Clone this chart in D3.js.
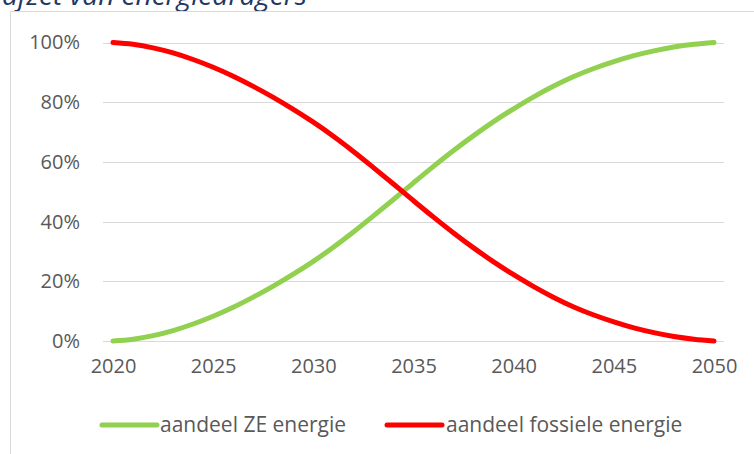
<!DOCTYPE html>
<html><head><meta charset="utf-8">
<script src="https://cdn.jsdelivr.net/npm/d3@7"></script>
<style>body{margin:0;background:#fff}svg{display:block}</style>
</head><body>
<svg id="c" width="754" height="454"></svg>
<script>
const years = d3.range(2020, 2051);
const tickYears = [2020, 2025, 2030, 2035, 2040, 2045, 2050];
const yTicks = [0, 20, 40, 60, 80, 100];
const zeShare = [0, 0.6, 1.8, 3.5, 5.7, 8.3, 11.3, 14.7, 18.4, 22.4, 26.7, 31.4, 36.5, 41.9, 47.4, 53.0, 58.5, 63.8, 68.8, 73.5, 77.8, 81.8, 85.4, 88.6, 91.3, 93.6, 95.6, 97.2, 98.5, 99.4, 100];
const fossilShare = [100, 99.4, 98.2, 96.5, 94.3, 91.7, 88.7, 85.3, 81.6, 77.6, 73.3, 68.6, 63.5, 58.1, 52.6, 47.0, 41.5, 36.2, 31.2, 26.5, 22.2, 18.2, 14.6, 11.4, 8.7, 6.4, 4.4, 2.8, 1.5, 0.6, 0];
const seriesNames = ["aandeel ZE energie", "aandeel fossiele energie"];
const title = "afzet van energiedragers";

const svg = d3.select("#c");
const font = "'Open Sans', sans-serif";
const grey = "#595959";

// title (cut off at top, as in the reference)
svg.append("text").attr("x", 2).attr("y", 5)
  .attr("font-family", font).attr("font-style", "italic").attr("font-size", 28)
  .attr("fill", "#1f3864").text(title);

// frame
svg.append("rect").attr("x", 10.5).attr("y", 11.5).attr("width", 800).attr("height", 500)
  .attr("fill", "none").attr("stroke", "#d9d9d9").attr("stroke-width", 1);

const x = d3.scalePoint().domain(years).range([113, 714]);
const y = d3.scaleLinear().domain([0, 100]).range([341, 42.5]);

// gridlines
svg.append("g").selectAll("line").data(yTicks).join("line")
  .attr("x1", 103).attr("x2", 724)
  .attr("y1", d => Math.round(y(d)) + 0.5).attr("y2", d => Math.round(y(d)) + 0.5)
  .attr("stroke", "#d9d9d9").attr("stroke-width", 1);

// y labels
const yAxis = d3.axisLeft(y).tickValues(yTicks).tickFormat(d => d + "%").tickSize(0).tickPadding(0);
const ga = svg.append("g").attr("transform", "translate(80,0)").call(yAxis);
ga.select(".domain").remove();
ga.selectAll("text").attr("font-family", font).attr("font-size", 20).attr("fill", grey);

// x labels
const xAxis = d3.axisBottom(x).tickValues(tickYears).tickSize(0).tickPadding(0);
const gx = svg.append("g").attr("transform", "translate(0,359)").call(xAxis);
gx.select(".domain").remove();
gx.selectAll("text").attr("font-family", font).attr("font-size", 20).attr("fill", grey);

const line = d3.line().x((d, i) => x(years[i])).y(d => y(d)).curve(d3.curveMonotoneX);
const colors = ["#92d050", "#ff0000"];
[zeShare, fossilShare].forEach((s, k) => {
  svg.append("path").attr("d", line(s)).attr("fill", "none")
    .attr("stroke", colors[k]).attr("stroke-width", 5)
    .attr("stroke-linecap", "round").attr("stroke-linejoin", "round");
});

// legend
const leg = [{x: 102, tx: 160}, {x: 387, tx: 446}];
seriesNames.forEach((n, k) => {
  svg.append("line").attr("x1", leg[k].x).attr("x2", leg[k].x + 55)
    .attr("y1", 425).attr("y2", 425).attr("stroke", colors[k]).attr("stroke-width", 5)
    .attr("stroke-linecap", "round");
  svg.append("text").attr("x", leg[k].tx).attr("y", 432)
    .attr("font-family", font).attr("font-size", 21).attr("fill", grey).text(n);
});
</script>
</body></html>
